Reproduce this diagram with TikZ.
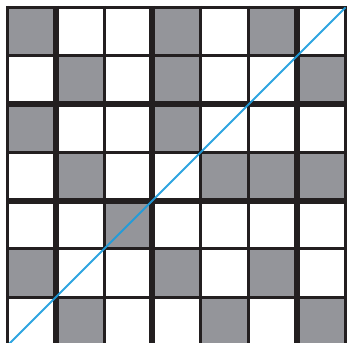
\documentclass[tikz,border=0pt]{standalone}
\definecolor{cellgray}{RGB}{148,149,154}
\definecolor{gridline}{RGB}{35,31,32}
\definecolor{diagblue}{RGB}{28,157,222}
\begin{document}
\begin{tikzpicture}[x=1pt,y=-1pt,
  cellfill/.style={fill=cellgray},
  thinline/.style={draw=gridline, line width=3pt},
  thickline/.style={draw=gridline, line width=6pt},
  diagline/.style={draw=diagblue, line width=1.9pt, opacity=0.92}]
\useasboundingbox (0,0) rectangle (347,342);
\clip (0,0) rectangle (347,342);
\def\cs{48.2857}
\def\og{7.5}
% gray cells (row/column, from top left)
\foreach \r/\c in {1/1,1/4,1/6,
                   2/2,2/4,2/7,
                   3/1,3/4,
                   4/2,4/5,4/6,4/7,
                   5/3,
                   6/1,6/4,6/6,
                   7/2,7/5,7/7}
  \fill[cellfill] ({\og+(\c-1)*\cs},{\og+(\r-1)*\cs}) rectangle ++(\cs,\cs);
% thin lines
\foreach \k in {0,2,4,5,7}
  \draw[thinline] ({\og+\k*\cs},6) -- ({\og+\k*\cs},352);
\foreach \k in {0,1,3,5,6,7}
  \draw[thinline] (6,{\og+\k*\cs}) -- (352,{\og+\k*\cs});
% thick lines
\foreach \k in {1,3,6}
  \draw[thickline] ({\og+\k*\cs},6) -- ({\og+\k*\cs},352);
\foreach \k in {2,4}
  \draw[thickline] (6,{\og+\k*\cs}) -- (352,{\og+\k*\cs});
% diagonal
\coordinate (lowleft) at (\og,{\og+7*\cs});
\coordinate (upright) at ({\og+7*\cs},\og);
\draw[diagline] (lowleft) -- (upright);
\end{tikzpicture}
\end{document}
